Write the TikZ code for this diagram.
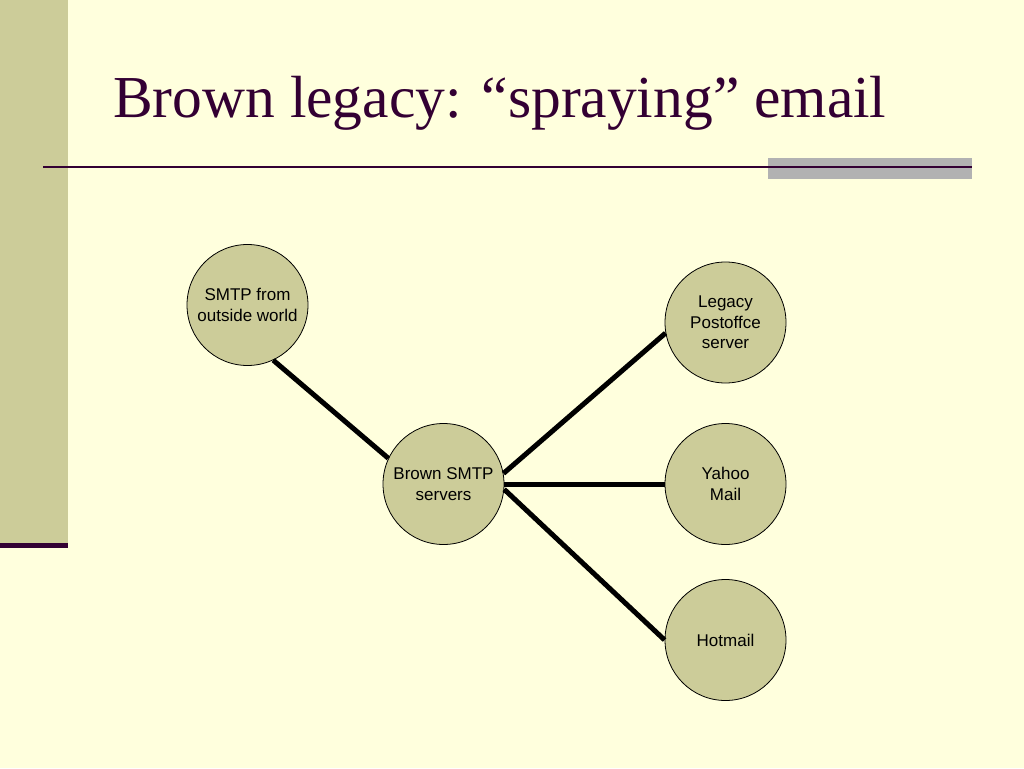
\documentclass[tikz,border=0pt]{standalone}
\usepackage{fontspec}
\setmainfont{Liberation Serif}
\newfontfamily\arialfont{Liberation Sans}
\definecolor{slidebg}{RGB}{255,255,221}
\definecolor{khaki}{RGB}{204,204,153}
\definecolor{plum}{RGB}{51,0,51}
\definecolor{bargray}{RGB}{178,178,178}
\tikzset{
	host/.style={circle, draw=black, line width=0.8pt, fill=khaki, minimum size=121pt, inner sep=0pt, align=center, font=\arialfont\fontsize{17}{20.5}\selectfont},
	link/.style={line width=5pt}
}
\begin{document}
\begin{tikzpicture}[x=1pt, y=-1pt]
		\fill[slidebg] (0, 0) rectangle (1024, 768);
		\useasboundingbox (0, 0) rectangle (1024, 768);
		\fill[khaki] (0, 0) rectangle (68, 544);
		\fill[plum] (0, 543) rectangle (68, 548);
		\fill[bargray] (768, 158) rectangle (972, 179);
		\draw[plum, line width=2pt] (43, 167) -- (972, 167);

		\node[anchor=base west, inner sep=0pt, text=plum, font=\fontsize{59.5}{66}\selectfont] (title) at (113, 117) {Brown legacy: “spraying” email};

		\node[host] (outside) at (247.5, 305) {SMTP from\\outside world};
		\node[host] (brown) at (443.5, 484) {Brown SMTP\\servers};
		\node[host] (legacy) at (725.5, 322.5) {Legacy\\Postoffce\\server};
		\node[host] (yahoo) at (725.5, 484) {Yahoo\\Mail};
		\node[host] (hotmail) at (725.5, 640) {Hotmail};

		\draw[link] (outside.-65) -- (brown.155);
		\draw[link] (brown.10) -- (legacy.190);
		\draw[link] (brown.east) -- (yahoo.west);
		\draw[link] (brown.-5) -- (hotmail.west);
	\end{tikzpicture}
\end{document}
